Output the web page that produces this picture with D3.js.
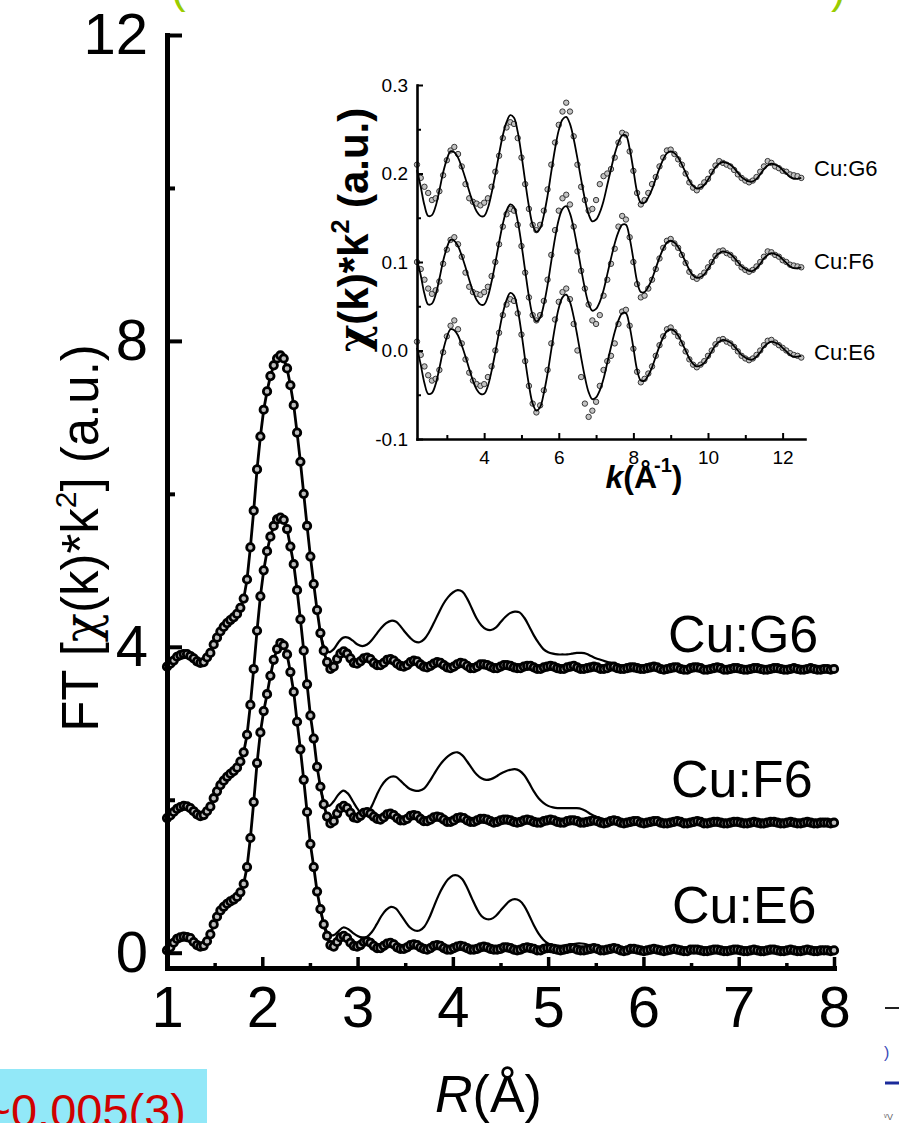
<!DOCTYPE html>
<html lang="en">
<head>
<meta charset="utf-8">
<title>Cu EXAFS: Fourier transforms and k-space oscillations</title>
<script src="https://cdn.jsdelivr.net/npm/d3@7/dist/d3.min.js"></script>
<style>
  html, body { margin: 0; padding: 0; background: #fff; }
  svg { display: block; }
</style>
</head>
<body>
<svg id="fig" width="899" height="1123" viewBox="0 0 899 1123"></svg>
<script>
// ---------- |FT[chi(k)k^2]| with markers, sampled every 0.035 Å from R = 1.000 Å ----------
const rStart = 1.0;
const rStep = 0.035;
const ftG6 = [
  3.74,3.78,3.82,3.87,3.89,3.905,3.905,3.88,3.85,3.81,
  3.79,3.80,3.86,3.92,4.03,4.12,4.20,4.26,4.31,4.35,
  4.385,4.43,4.51,4.63,4.88,5.30,5.78,6.32,6.75,7.10,
  7.34,7.54,7.68,7.77,7.81,7.77,7.64,7.42,7.16,6.80,
  6.42,6.00,5.58,5.18,4.82,4.48,4.18,3.95,3.80,3.71,
  3.74,3.84,3.91,3.94,3.91,3.85,3.79,3.78,3.81,3.85,
  3.86,3.84,3.79,3.76,3.76,3.79,3.83,3.84,3.82,3.78,
  3.75,3.74,3.76,3.80,3.82,3.81,3.77,3.74,3.73,3.75,
  3.78,3.80,3.79,3.76,3.73,3.72,3.74,3.77,3.79,3.78,
  3.75,3.72,3.72,3.74,3.77,3.77,3.76,3.74,3.72,3.72,
  3.74,3.76,3.76,3.75,3.73,3.72,3.72,3.74,3.75,3.75,
  3.73,3.71,3.71,3.73,3.74,3.75,3.74,3.72,3.71,3.71,
  3.73,3.74,3.75,3.73,3.71,3.71,3.72,3.73,3.74,3.73,
  3.71,3.71,3.72,3.74,3.74,3.72,3.71,3.71,3.72,3.73,
  3.73,3.72,3.71,3.71,3.72,3.73,3.74,3.73,3.71,3.70,
  3.71,3.72,3.73,3.73,3.71,3.70,3.70,3.72,3.73,3.73,
  3.72,3.70,3.70,3.71,3.72,3.73,3.72,3.70,3.70,3.71,
  3.72,3.72,3.71,3.70,3.70,3.71,3.72,3.72,3.71,3.70,
  3.70,3.71,3.72,3.72,3.71,3.70,3.70,3.71,3.72,3.71,
  3.70,3.70,3.71,3.72,3.71,3.70,3.70,3.71,3.71,3.70,
  3.71
];
const ftF6 = [
  1.76,1.795,1.84,1.88,1.905,1.92,1.915,1.89,1.85,1.81,
  1.785,1.80,1.85,1.91,2.02,2.11,2.19,2.25,2.30,2.34,
  2.375,2.42,2.50,2.62,2.85,3.24,3.71,4.21,4.66,5.00,
  5.25,5.44,5.58,5.665,5.69,5.66,5.54,5.31,5.08,4.74,
  4.36,3.95,3.51,3.10,2.80,2.43,2.17,1.94,1.78,1.69,
  1.72,1.82,1.89,1.92,1.89,1.83,1.77,1.76,1.79,1.83,
  1.84,1.82,1.78,1.75,1.74,1.77,1.81,1.82,1.80,1.76,
  1.73,1.73,1.75,1.79,1.80,1.79,1.75,1.72,1.72,1.74,
  1.77,1.78,1.77,1.74,1.71,1.71,1.73,1.76,1.77,1.76,
  1.73,1.71,1.71,1.73,1.75,1.75,1.74,1.72,1.70,1.71,
  1.73,1.74,1.74,1.73,1.71,1.70,1.71,1.73,1.74,1.73,
  1.71,1.70,1.70,1.72,1.73,1.74,1.73,1.71,1.70,1.70,
  1.72,1.73,1.73,1.72,1.70,1.70,1.71,1.72,1.73,1.72,
  1.70,1.69,1.70,1.72,1.73,1.72,1.70,1.69,1.70,1.71,
  1.72,1.72,1.70,1.69,1.70,1.71,1.72,1.72,1.70,1.69,
  1.69,1.70,1.71,1.72,1.71,1.69,1.69,1.70,1.71,1.72,
  1.71,1.69,1.69,1.70,1.71,1.71,1.70,1.69,1.69,1.70,
  1.71,1.71,1.70,1.69,1.69,1.70,1.71,1.70,1.69,1.69,
  1.70,1.71,1.71,1.70,1.69,1.69,1.70,1.71,1.70,1.69,
  1.69,1.70,1.71,1.70,1.69,1.69,1.70,1.70,1.70,1.69,
  1.70
];
const ftE6 = [
  0.03,0.07,0.13,0.18,0.20,0.21,0.205,0.19,0.14,0.10,
  0.08,0.09,0.15,0.24,0.37,0.47,0.55,0.60,0.64,0.67,
  0.695,0.73,0.79,0.90,1.12,1.50,1.97,2.48,2.88,3.16,
  3.38,3.62,3.83,3.97,4.05,4.02,3.90,3.67,3.41,3.02,
  2.66,2.26,1.84,1.42,1.12,0.80,0.57,0.37,0.22,0.10,
  0.08,0.14,0.20,0.22,0.19,0.13,0.09,0.08,0.10,0.14,
  0.15,0.13,0.09,0.06,0.06,0.09,0.12,0.13,0.11,0.07,
  0.05,0.05,0.07,0.10,0.11,0.10,0.07,0.05,0.04,0.06,
  0.09,0.10,0.09,0.06,0.04,0.04,0.06,0.08,0.09,0.08,
  0.06,0.04,0.04,0.05,0.07,0.08,0.07,0.05,0.04,0.04,
  0.05,0.07,0.07,0.06,0.04,0.03,0.04,0.06,0.07,0.06,
  0.05,0.03,0.03,0.05,0.06,0.06,0.05,0.04,0.03,0.04,
  0.05,0.06,0.06,0.04,0.03,0.03,0.04,0.05,0.06,0.05,
  0.03,0.03,0.04,0.05,0.06,0.05,0.03,0.02,0.03,0.05,
  0.05,0.04,0.03,0.02,0.03,0.04,0.05,0.04,0.03,0.02,
  0.03,0.04,0.05,0.04,0.03,0.02,0.02,0.04,0.04,0.04,
  0.03,0.02,0.02,0.03,0.04,0.04,0.03,0.02,0.02,0.03,
  0.04,0.04,0.03,0.02,0.02,0.03,0.04,0.03,0.02,0.02,
  0.03,0.04,0.04,0.03,0.02,0.02,0.03,0.04,0.03,0.02,
  0.02,0.03,0.04,0.03,0.02,0.02,0.03,0.03,0.03,0.02,
  0.03
];

// ---------- thin solid traces, every 0.05 Å from R = 2.60 Å ----------
const rTraceStart = 2.6;
const rTraceStep = 0.05;
const traceG6 = [
  4.26,4.00,3.93,3.97,4.06,4.12,4.12,4.08,4.03,4.01,
  4.03,4.09,4.17,4.25,4.31,4.34,4.33,4.27,4.19,4.12,
  4.07,4.06,4.10,4.19,4.31,4.44,4.56,4.65,4.71,4.74,
  4.72,4.63,4.50,4.37,4.28,4.23,4.22,4.25,4.32,4.39,
  4.44,4.46,4.45,4.38,4.27,4.15,4.05,3.97,3.93,3.91,
  3.90,3.90,3.90,3.91,3.92,3.92,3.91,3.88,3.85,3.83,
  3.81,3.79,3.77,3.75,3.74,3.73,3.72
];
const traceF6 = [
  2.24,1.98,1.92,1.98,2.07,2.12,2.08,1.98,1.88,1.81,
  1.82,1.92,2.06,2.18,2.26,2.30,2.30,2.25,2.19,2.14,
  2.12,2.12,2.15,2.23,2.33,2.43,2.51,2.57,2.61,2.62,
  2.58,2.50,2.41,2.33,2.28,2.26,2.27,2.30,2.34,2.37,
  2.39,2.40,2.38,2.32,2.22,2.11,2.02,1.96,1.92,1.90,
  1.89,1.89,1.89,1.89,1.89,1.88,1.85,1.81,1.78,1.76,
  1.74,1.73,1.72,1.72,1.71,1.71,1.70
];
const traceE6 = [
  0.64,0.36,0.24,0.23,0.28,0.33,0.31,0.26,0.22,0.20,
  0.21,0.27,0.37,0.48,0.56,0.60,0.58,0.50,0.41,0.33,
  0.29,0.29,0.34,0.45,0.60,0.75,0.87,0.96,1.01,1.01,
  0.96,0.85,0.71,0.58,0.48,0.44,0.44,0.48,0.55,0.62,
  0.68,0.70,0.68,0.61,0.49,0.36,0.25,0.17,0.12,0.10,
  0.09,0.09,0.10,0.11,0.12,0.12,0.11,0.09,0.07,0.06,
  0.05,0.05,0.04,0.04,0.04,0.03,0.03
];

// ---------- chi(k)*k^2, every 0.1 Å^-1 from k = 2.2 Å^-1 ----------
const kStart = 2.2;
const kStep = 0.1;
const chiG6 = [
  .210,.195,.185,.178,.170,.172,.180,.198,.215,.226,
  .230,.222,.208,.188,.172,.168,.166,.164,.167,.172,
  .185,.202,.220,.240,.252,.258,.256,.240,.218,.188,
  .160,.142,.136,.142,.158,.182,.210,.235,.255,.270,
  .280,.270,.242,.210,.185,.170,.158,.160,.170,.188,
  .197,.200,.205,.218,.235,.246,.244,.225,.203,.178,
  .165,.170,.178,.188,.196,.208,.218,.226,.227,.222,
  .216,.210,.200,.190,.184,.181,.185,.190,.194,.202,
  .209,.214,.212,.210,.208,.204,.199,.195,.192,.190,
  .192,.196,.202,.208,.214,.212,.208,.206,.203,.202,
  .199,.198,.197,.195
];
const fitG6 = [
  .204,.185,.164,.152,.153,.163,.181,.201,.216,.225,
  .224,.218,.207,.194,.180,.167,.157,.152,.152,.161,
  .178,.199,.222,.243,.258,.266,.263,.247,.221,.191,
  .163,.142,.134,.138,.153,.175,.202,.228,.249,.261,
  .264,.256,.239,.217,.193,.171,.154,.146,.148,.156,
  .169,.187,.205,.222,.235,.243,.243,.228,.204,.179,
  .167,.167,.173,.182,.194,.206,.216,.223,.225,.223,
  .218,.210,.201,.192,.186,.183,.184,.187,.193,.200,
  .207,.211,.213,.212,.210,.206,.201,.196,.193,.191,
  .191,.194,.199,.205,.209,.211,.210,.208,.204,.200,
  .196,.194,.194,.195
];
const chiF6 = [
  .100,.092,.080,.070,.064,.068,.078,.098,.114,.125,
  .128,.120,.106,.088,.072,.066,.064,.063,.066,.072,
  .084,.100,.120,.140,.154,.160,.158,.142,.118,.088,
  .060,.040,.034,.040,.056,.080,.108,.136,.158,.172,
  .176,.165,.140,.112,.090,.070,.052,.034,.030,.040,
  .062,.080,.098,.115,.140,.152,.148,.128,.100,.075,
  .060,.062,.070,.080,.092,.104,.116,.124,.126,.121,
  .116,.108,.099,.089,.083,.081,.084,.088,.094,.100,
  .107,.112,.113,.110,.108,.104,.099,.094,.091,.089,
  .091,.095,.100,.106,.112,.111,.108,.106,.102,.100,
  .097,.096,.095,.094
];
const fitF6 = [
  .103,.085,.064,.052,.053,.063,.081,.101,.116,.125,
  .124,.118,.107,.094,.080,.067,.057,.052,.052,.061,
  .078,.099,.122,.143,.158,.165,.162,.146,.120,.090,
  .061,.040,.033,.037,.052,.074,.101,.127,.148,.160,
  .163,.155,.138,.116,.092,.070,.053,.045,.047,.055,
  .068,.086,.104,.121,.134,.142,.142,.127,.103,.078,
  .066,.066,.072,.081,.093,.105,.115,.122,.124,.122,
  .117,.109,.100,.091,.085,.082,.083,.086,.092,.099,
  .106,.110,.112,.111,.109,.105,.100,.095,.092,.090,
  .090,.093,.098,.104,.108,.110,.109,.107,.103,.099,
  .095,.093,.093,.094
];
const chiE6 = [
  .010,-.005,-.018,-.028,-.034,-.032,-.022,-.002,.016,.028,
  .034,.024,.008,-.010,-.025,-.034,-.038,-.040,-.038,-.030,
  -.018,.000,.020,.040,.052,.058,.056,.042,.018,-.012,
  -.040,-.060,-.070,-.062,-.045,-.022,.008,.035,.055,.066,
  .070,.058,.030,.000,-.030,-.060,-.075,-.068,-.058,-.040,
  -.022,-.012,-.006,.008,.030,.044,.046,.028,.002,-.024,
  -.036,-.032,-.026,-.018,-.006,.006,.016,.024,.026,.021,
  .016,.008,-.001,-.010,-.016,-.019,-.016,-.012,-.006,.000,
  .007,.012,.013,.010,.008,.004,-.001,-.006,-.009,-.011,
  -.009,-.005,.000,.006,.011,.012,.009,.006,.003,.000,
  -.003,-.005,-.006,-.008
];
const fitE6 = [
  .003,-.016,-.037,-.049,-.048,-.038,-.020,.000,.015,.024,
  .023,.017,.006,-.007,-.021,-.034,-.044,-.049,-.049,-.040,
  -.023,-.002,.021,.042,.057,.065,.062,.046,.020,-.011,
  -.039,-.060,-.068,-.064,-.048,-.026,.001,.027,.048,.060,
  .063,.055,.038,.016,-.008,-.030,-.047,-.055,-.053,-.045,
  -.032,-.014,.004,.021,.034,.042,.042,.027,.003,-.022,
  -.034,-.034,-.028,-.019,-.007,.005,.015,.022,.024,.022,
  .017,.009,.000,-.009,-.015,-.018,-.017,-.014,-.008,-.001,
  .006,.010,.012,.011,.009,.005,.000,-.005,-.008,-.010,
  -.010,-.007,-.002,.004,.008,.010,.009,.007,.003,-.001,
  -.005,-.007,-.007,-.006
];

// ---------- names, ticks and labels ----------
const sampleNames = ['Cu:G6', 'Cu:F6', 'Cu:E6'];
const rTicks = [1, 2, 3, 4, 5, 6, 7, 8];
const rTickLabels = ['1', '2', '3', '4', '5', '6', '7', '8'];
const rMinorTicks = [1.5, 2.5, 3.5, 4.5, 5.5, 6.5, 7.5];
const ftTicks = [0, 4, 8, 12];
const ftTickLabels = ['0', '4', '8', '12'];
const ftMinorTicks = [2, 6, 10];
const kTicks = [4, 6, 8, 10, 12];
const kTickLabels = ['4', '6', '8', '10', '12'];
const kMinorTicks = [3, 5, 7, 9, 11];
const chiTicks = [-0.1, 0, 0.1, 0.2, 0.3];
const chiTickLabels = ['-0.1', '0.0', '0.1', '0.2', '0.3'];
const chiMinorTicks = [-0.05, 0.05, 0.15, 0.25];

// ---------- drawing ----------
const FONT = '"Liberation Sans", Arial, Helvetica, sans-serif';
const GREEK = '"DejaVu Serif", "Liberation Serif", serif';
const svg = d3.select('#fig');
svg.append('rect').attr('width', 899).attr('height', 1123).attr('fill', '#fff');

function styleAxis(g, domainW, tickW, fontSize) {
  g.attr('font-family', FONT).attr('font-size', fontSize);
  g.select('.domain').attr('stroke', '#000').attr('stroke-width', domainW)
    .attr('stroke-linecap', 'square');
  g.selectAll('.tick line').attr('stroke', '#000').attr('stroke-width', tickW);
  g.selectAll('.tick text').attr('fill', '#000');
}

// ===== main panel: FT magnitude vs R =====
const x = d3.scaleLinear().domain([1, 8]).range([167, 834]);
const y = d3.scaleLinear().domain([-0.2, 12]).range([968, 35]);

const ftSets = [
  { name: sampleNames[0], pts: ftG6, trace: traceG6, lx: 668, ly: 652 },
  { name: sampleNames[1], pts: ftF6, trace: traceF6, lx: 671, ly: 797 },
  { name: sampleNames[2], pts: ftE6, trace: traceE6, lx: 672, ly: 923 }
];

const markerLine = d3.line().x(d => x(d[0])).y(d => y(d[1]));
const traceLine = d3.line().curve(d3.curveCatmullRom.alpha(0.5))
  .x(d => x(d[0])).y(d => y(d[1]));

const plot = svg.append('g').attr('class', 'ft-series');
ftSets.forEach(s => {
  const pts = s.pts.map((v, i) => [rStart + i * rStep, v]);
  const tr = s.trace.map((v, i) => [rTraceStart + i * rTraceStep, v]);
  const g = plot.append('g');
  g.append('path').attr('d', traceLine(tr)).attr('fill', 'none')
    .attr('stroke', '#000').attr('stroke-width', 2.2).attr('stroke-linejoin', 'round');
  g.append('path').attr('d', markerLine(pts)).attr('fill', 'none')
    .attr('stroke', '#000').attr('stroke-width', 2.8).attr('stroke-linejoin', 'round');
  g.selectAll('circle').data(pts).join('circle')
    .attr('cx', d => x(d[0])).attr('cy', d => y(d[1])).attr('r', 3.7)
    .attr('fill', '#bdbdbd').attr('stroke', '#000').attr('stroke-width', 2.8);
  svg.append('text').attr('x', s.lx).attr('y', s.ly)
    .attr('font-family', FONT).attr('font-size', 52).attr('fill', '#000')
    .text(s.name);
});

// axes of the main panel (ticks point inward)
svg.append('g').attr('transform', 'translate(0,968)')
  .call(d3.axisBottom(x).tickValues(rTicks).tickSize(-11).tickSizeOuter(0)
    .tickPadding(18).tickFormat((d, i) => rTickLabels[i]))
  .call(g => styleAxis(g, 5, 3.5, 58));
svg.append('g').attr('transform', 'translate(0,968)')
  .call(d3.axisBottom(x).tickValues(rMinorTicks).tickSize(-5).tickFormat(() => ''))
  .call(g => { g.select('.domain').remove(); g.selectAll('.tick line').attr('stroke', '#000').attr('stroke-width', 3.5); });

svg.append('g').attr('transform', 'translate(167,0)')
  .call(d3.axisLeft(y).tickValues(ftTicks).tickSize(-15).tickSizeOuter(0)
    .tickPadding(19).tickFormat((d, i) => ftTickLabels[i]))
  .call(g => styleAxis(g, 5, 4, 58));
svg.append('g').attr('transform', 'translate(167,0)')
  .call(d3.axisLeft(y).tickValues(ftMinorTicks).tickSize(-8).tickFormat(() => ''))
  .call(g => { g.select('.domain').remove(); g.selectAll('.tick line').attr('stroke', '#000').attr('stroke-width', 4); });

// axis titles
const xTitle = svg.append('text').attr('x', 435).attr('y', 1112)
  .attr('font-family', FONT).attr('font-size', 52).attr('fill', '#000');
xTitle.append('tspan').attr('font-style', 'italic').text('R');
xTitle.append('tspan').text('(Å)');

const yTitle = svg.append('text')
  .attr('transform', 'translate(98,538) rotate(-90)').attr('text-anchor', 'middle')
  .attr('font-family', FONT).attr('font-size', 51).attr('fill', '#000');
yTitle.append('tspan').text('FT [');
yTitle.append('tspan').attr('font-family', GREEK).attr('font-size', 48).text('χ');
yTitle.append('tspan').text('(k)*k');
yTitle.append('tspan').attr('font-size', 30).attr('dy', -22).text('2');
yTitle.append('tspan').attr('dy', 22).text('] (a.u.)');

// ===== inset: chi(k)*k^2 vs k =====
const kx = d3.scaleLinear().domain([2.2, 12.6]).range([417, 805]);
const cy = d3.scaleLinear().domain([-0.1, 0.3]).range([439, 85]);

const chiSets = [
  { name: sampleNames[0], data: chiG6, fit: fitG6, ly: 176 },
  { name: sampleNames[1], data: chiF6, fit: fitF6, ly: 269 },
  { name: sampleNames[2], data: chiE6, fit: fitE6, ly: 360 }
];
const fitLine = d3.line().curve(d3.curveCatmullRom.alpha(0.5))
  .x(d => kx(d[0])).y(d => cy(d[1]));

const inset = svg.append('g').attr('class', 'inset');
chiSets.forEach(s => {
  const dat = s.data.map((v, i) => [kStart + i * kStep, v]);
  const fit = s.fit.map((v, i) => [kStart + i * kStep, v]);
  const g = inset.append('g');
  g.selectAll('circle').data(dat).join('circle')
    .attr('cx', d => kx(d[0])).attr('cy', d => cy(d[1])).attr('r', 2.7)
    .attr('fill', '#c2c2c2').attr('stroke', '#383838').attr('stroke-width', 1);
  g.append('path').attr('d', fitLine(fit)).attr('fill', 'none')
    .attr('stroke', '#000').attr('stroke-width', 1.8);
  inset.append('text').attr('x', 814).attr('y', s.ly)
    .attr('font-family', FONT).attr('font-size', 22).attr('fill', '#000')
    .text(s.name);
});

inset.append('g').attr('transform', 'translate(0,439)')
  .call(d3.axisBottom(kx).tickValues(kTicks).tickSize(-6).tickSizeOuter(0)
    .tickPadding(12).tickFormat((d, i) => kTickLabels[i]))
  .call(g => styleAxis(g, 2.6, 2, 19));
inset.append('g').attr('transform', 'translate(0,439)')
  .call(d3.axisBottom(kx).tickValues(kMinorTicks).tickSize(-4).tickFormat(() => ''))
  .call(g => { g.select('.domain').remove(); g.selectAll('.tick line').attr('stroke', '#000').attr('stroke-width', 2); });
inset.append('g').attr('transform', 'translate(417,0)')
  .call(d3.axisLeft(cy).tickValues(chiTicks).tickSize(-6).tickSizeOuter(0)
    .tickPadding(9).tickFormat((d, i) => chiTickLabels[i]))
  .call(g => styleAxis(g, 2.6, 2, 19));
inset.append('g').attr('transform', 'translate(417,0)')
  .call(d3.axisLeft(cy).tickValues(chiMinorTicks).tickSize(-4).tickFormat(() => ''))
  .call(g => { g.select('.domain').remove(); g.selectAll('.tick line').attr('stroke', '#000').attr('stroke-width', 2); });

const kTitle = inset.append('text').attr('x', 644).attr('y', 488).attr('text-anchor', 'middle')
  .attr('font-family', FONT).attr('font-size', 32).attr('font-weight', 'bold').attr('fill', '#000');
kTitle.append('tspan').attr('font-style', 'italic').text('k');
kTitle.append('tspan').text('(Å');
kTitle.append('tspan').attr('font-size', 20).attr('dx', -3).attr('dy', -16).text('-1');
kTitle.append('tspan').attr('dy', 16).text(')');

const chiTitle = inset.append('text')
  .attr('transform', 'translate(368,230) rotate(-90)').attr('text-anchor', 'middle')
  .attr('font-family', FONT).attr('font-size', 42).attr('font-weight', 'bold').attr('fill', '#000');
chiTitle.append('tspan').attr('font-family', GREEK).attr('font-size', 42).text('χ');
chiTitle.append('tspan').text('(k)*k');
chiTitle.append('tspan').attr('font-size', 25).attr('dy', -19).text('2');
chiTitle.append('tspan').attr('dy', 19).text(' (a.u.)');

// ===== page-edge fragments =====
svg.append('text').attr('x', 171).attr('y', 3).attr('font-family', FONT)
  .attr('font-size', 44).attr('fill', '#99cc00').text('(');
svg.append('text').attr('x', 831).attr('y', 3).attr('font-family', FONT)
  .attr('font-size', 44).attr('fill', '#99cc00').text(')');

svg.append('rect').attr('x', 0).attr('y', 1069).attr('width', 207).attr('height', 54)
  .attr('fill', '#92e8f8');
svg.append('text').attr('x', 186).attr('y', 1127).attr('text-anchor', 'end')
  .attr('font-family', FONT).attr('font-size', 47).attr('fill', '#d00000')
  .text('~0.005(3)');

svg.append('line').attr('x1', 885).attr('x2', 899).attr('y1', 1008).attr('y2', 1008)
  .attr('stroke', '#222').attr('stroke-width', 2);
svg.append('text').attr('x', 884).attr('y', 1058).attr('font-family', FONT)
  .attr('font-size', 16).attr('fill', '#3a4ab8').text(')');
svg.append('line').attr('x1', 885).attr('x2', 899).attr('y1', 1083).attr('y2', 1083)
  .attr('stroke', '#1a2a9a').attr('stroke-width', 3);
svg.append('text').attr('x', 884).attr('y', 1120).attr('font-family', FONT)
  .attr('font-size', 9).attr('fill', '#666').text('ᵛV');
</script>
</body>
</html>
